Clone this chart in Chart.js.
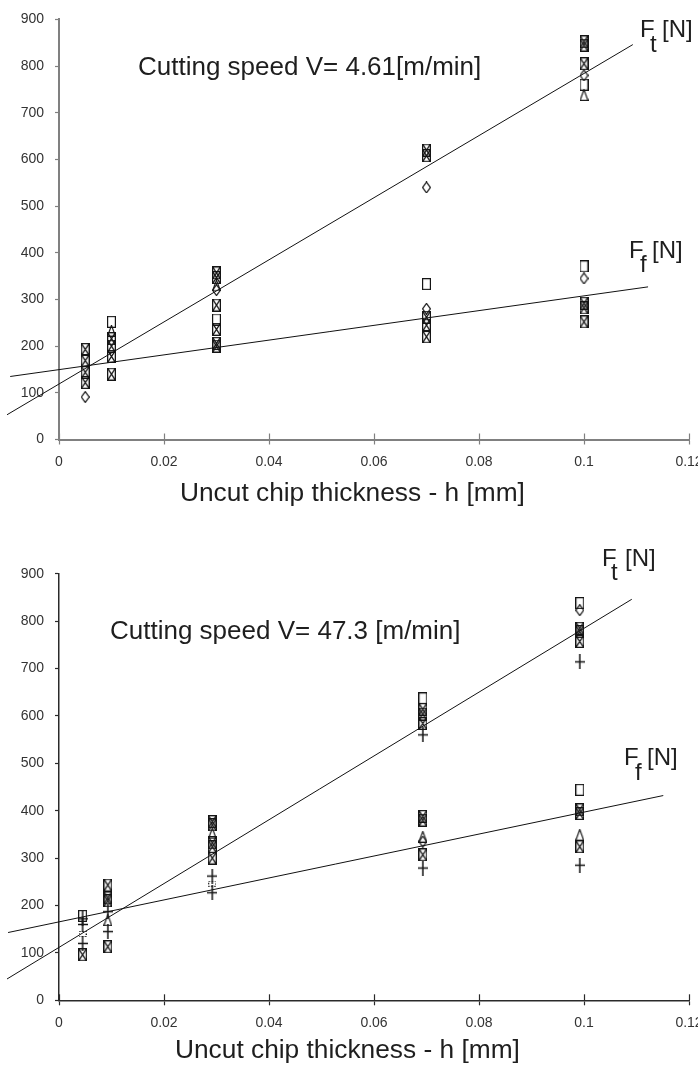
<!DOCTYPE html>
<html><head><meta charset="utf-8">
<script src="https://cdn.jsdelivr.net/npm/chart.js@4.4.1/dist/chart.umd.min.js"></script>
<style>
html,body{margin:0;padding:0;background:#fff;width:698px;height:1070px;overflow:hidden;position:relative;}
.panel{position:absolute;left:0;width:712px;}
#p1{top:0;height:530px}
#p2{top:530px;height:540px}
canvas{display:block}
.t{position:absolute;font-family:"Liberation Sans",Arial,Helvetica,sans-serif;color:#1e1e1e;line-height:1;white-space:nowrap;}
</style></head><body>
<div class="panel" id="p1"><canvas id="c1" width="712" height="530"></canvas></div>
<div class="panel" id="p2"><canvas id="c2" width="712" height="540"></canvas></div>
<div id="labels"></div>
<script>
// ---------- data (forces in N) ----------
const xTickLabels = ['0', '0.02', '0.04', '0.06', '0.08', '0.1', '0.12'];

// Top chart: cutting speed V = 4.61 m/min
const topX        = [0.005, 0.01, 0.03, 0.07, 0.1];
const topXbox     = [[193, 169, 144, 122], [216, 200, 178, 140], [357, 347, 288, 236, 206, 200], [620, 608, 262, 245, 220], [852, 845, 805, 292, 282, 252]];
const topSquare   = [[], [252], [257], [333], [760, 371]];
const topDiamond  = [[91], [], [320], [540, 280], [780, 345]];
const topTriangle = [[], [233], [330], [], [738]];
const topFtLineX  = [-0.0099, 0.1093];
const topFtLineY  = [53, 846];
const topFfLineX  = [-0.0093, 0.1122];
const topFfLineY  = [135, 327];

// Bottom chart: cutting speed V = 47.3 m/min
const botX        = [0.0045, 0.0093, 0.0292, 0.0693, 0.0992];
const botXbox     = [[96], [243, 216, 210, 113], [377, 370, 332, 324, 300], [614, 604, 584, 388, 380, 307], [785, 778, 757, 402, 394, 324]];
const botSquare   = [[178], [], [], [637], [838, 444]];
const botDiamond  = [[], [], [], [335], [823]];
const botTriangle = [[], [169], [352], [345], [349]];
const botPlus     = [[172, 160, 120], [187, 145], [262, 227], [560, 279], [714, 285]];
const botDot      = [[140], [], [246], [], []];
const botFtLineX  = [-0.0099, 0.1091];
const botFtLineY  = [45, 846];
const botFfLineX  = [-0.0097, 0.1151];
const botFfLineY  = [143, 432];

// ---------- marker images ----------
function mk(w, h, lw, draw) {
  const c = document.createElement('canvas');
  c.width = w; c.height = h;
  const g = c.getContext('2d');
  g.strokeStyle = '#151515'; g.lineWidth = lw;
  draw(g, w, h);
  return c;
}
const M = {
  xbox: mk(9, 13, 1.3, (g, w, h) => {
    g.strokeRect(0.65, 0.65, w - 1.3, h - 1.3);
    g.beginPath(); g.moveTo(0.65, 0.65); g.lineTo(w - 0.65, h - 0.65);
    g.moveTo(w - 0.65, 0.65); g.lineTo(0.65, h - 0.65); g.stroke();
  }),
  square: mk(9, 12, 1.2, (g, w, h) => { g.strokeRect(0.6, 0.6, w - 1.2, h - 1.2); }),
  diamond: mk(9, 12, 1.2, (g, w, h) => {
    g.beginPath(); g.moveTo(w / 2, 0.6); g.lineTo(w - 0.6, h / 2); g.lineTo(w / 2, h - 0.6); g.lineTo(0.6, h / 2); g.closePath(); g.stroke();
  }),
  triangle: mk(9, 12, 1.2, (g, w, h) => {
    g.beginPath(); g.moveTo(w / 2, 0.6); g.lineTo(w - 0.6, h - 0.6); g.lineTo(0.6, h - 0.6); g.closePath(); g.stroke();
  }),
  plus: mk(10, 15, 1.5, (g, w, h) => {
    g.beginPath(); g.moveTo(w / 2, 0); g.lineTo(w / 2, h); g.moveTo(0, h / 2); g.lineTo(w, h / 2); g.stroke();
  }),
  dot: mk(8, 6, 1, (g, w, h) => {
    g.setLineDash([1.5, 1.5]);
    g.strokeRect(0.5, 0.5, w - 1, h - 1);
  })
};

function pts(xs, groups) {
  const out = [];
  groups.forEach((ys, i) => ys.forEach(y => out.push({ x: xs[i], y: y })));
  return out;
}
function linePts(xs, ys) { return xs.map((x, i) => ({ x: x, y: ys[i] })); }

function markerSet(data, style) {
  return { type: 'scatter', data: data, pointStyle: style, pointRadius: 5, clip: false };
}
function lineSet(data) {
  return { type: 'line', data: data, showLine: true, borderColor: '#111', borderWidth: 1, pointRadius: 0, fill: false, clip: false, tension: 0 };
}

const innerTicks = {
  id: 'innerTicks',
  afterDraw(chart, args, opts) {
    const s = chart.scales.x, ctx = chart.ctx;
    ctx.save();
    ctx.strokeStyle = opts.color; ctx.lineWidth = opts.width;
    s.ticks.forEach(t => {
      const px = Math.round(s.getPixelForValue(t.value)) + 0.5;
      ctx.beginPath(); ctx.moveTo(px, s.top); ctx.lineTo(px, s.top - 6); ctx.stroke();
    });
    ctx.restore();
  }
};

function makeChart(id, datasets, pad, axisColor, axisWidth) {
  const font = { family: '"Liberation Sans", Arial, sans-serif', size: 14 };
  return new Chart(document.getElementById(id), {
    type: 'scatter',
    data: { datasets: datasets },
    plugins: [innerTicks],
    options: {
      responsive: false, animation: false, devicePixelRatio: 1, events: [],
      layout: { padding: pad },
      plugins: { legend: { display: false }, tooltip: { enabled: false }, innerTicks: { color: axisColor, width: 1.2 } },
      scales: {
        x: {
          type: 'linear', min: 0, max: 0.12,
          afterFit: s => { s.height = 40; },
          border: { display: true, color: axisColor, width: axisWidth },
          grid: { drawOnChartArea: false, drawTicks: true, tickLength: 5, color: axisColor, tickWidth: 1.2 },
          ticks: { stepSize: 0.02, color: '#333', font: font, padding: 9, maxRotation: 0, autoSkip: false,
                   callback: (v, i) => xTickLabels[i] }
        },
        y: {
          type: 'linear', min: 0, max: 900,
          afterFit: s => { s.width = 59; },
          border: { display: true, color: axisColor, width: axisWidth },
          grid: { drawOnChartArea: false, drawTicks: true, tickLength: 4, color: axisColor, tickWidth: 1.2 },
          ticks: { stepSize: 100, color: '#333', font: font, padding: 11 }
        }
      }
    }
  });
}

makeChart('c1', [
  lineSet(linePts(topFtLineX, topFtLineY)),
  lineSet(linePts(topFfLineX, topFfLineY)),
  markerSet(pts(topX, topXbox), M.xbox),
  markerSet(pts(topX, topSquare), M.square),
  markerSet(pts(topX, topDiamond), M.diamond),
  markerSet(pts(topX, topTriangle), M.triangle)
], { left: 0, top: 13.5, right: 23, bottom: 50.5 }, '#808080', 2);

makeChart('c2', [
  lineSet(linePts(botFtLineX, botFtLineY)),
  lineSet(linePts(botFfLineX, botFfLineY)),
  markerSet(pts(botX, botXbox), M.xbox),
  markerSet(pts(botX, botSquare), M.square),
  markerSet(pts(botX, botDiamond), M.diamond),
  markerSet(pts(botX, botTriangle), M.triangle),
  markerSet(pts(botX, botPlus), M.plus),
  markerSet(pts(botX, botDot), M.dot)
], { left: 0, top: 43.7, right: 23, bottom: 29.7 }, '#2a2a2a', 1.5);

// ---------- text labels ----------
const labelsDiv = document.getElementById('labels');
function place(text, left, baseline, size) {
  const d = document.createElement('div');
  d.className = 't';
  d.textContent = text;
  d.style.fontSize = size + 'px';
  d.style.left = left + 'px';
  d.style.top = (baseline - 0.8465 * size) + 'px';
  labelsDiv.appendChild(d);
}
place('Cutting speed V= 4.61[m/min]', 138, 75, 26);
place('Uncut chip thickness - h [mm]', 180, 501, 26.3);
place('F', 640, 37, 24); place('t', 650, 52, 24); place('[N]', 662, 37, 24);
place('F', 629, 258, 24); place('f', 640, 272, 24); place('[N]', 652, 258, 24);

place('Cutting speed V= 47.3 [m/min]', 110, 639, 26);
place('Uncut chip thickness - h [mm]', 175, 1058, 26.3);
place('F', 602, 566, 24); place('t', 611, 580, 24); place('[N]', 625, 566, 24);
place('F', 624, 765, 24); place('f', 635, 780, 24); place('[N]', 647, 765, 24);
</script>
</body></html>
